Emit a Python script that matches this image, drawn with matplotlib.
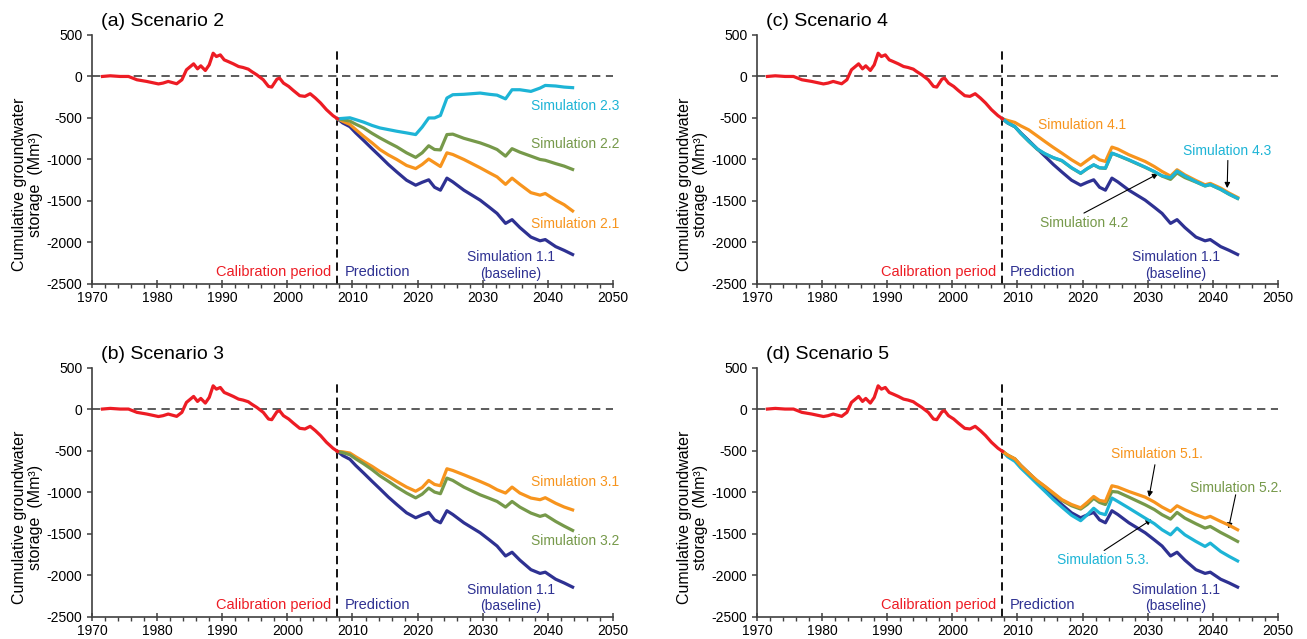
import matplotlib
matplotlib.use("Agg")
import matplotlib.pyplot as plt
from matplotlib.ticker import MultipleLocator

plt.rcParams['font.family'] = ['Liberation Sans', 'DejaVu Sans']
plt.rcParams['axes.unicode_minus'] = False
plt.rcParams['lines.scale_dashes'] = False

# ---------------------------------------------------------------
# colours
RED = '#ED1C24'
NAVY = '#2E3192'
ORANGE = '#F7941D'
GREEN = '#76994A'
CYAN = '#1DB4D6'

# ---------------------------------------------------------------
# calibration period (same in all panels)
cal_years = [1971.6, 1972.8, 1974.3, 1975.6, 1976.9, 1978.4, 1980.2, 1980.9, 1981.7,
             1983.0, 1983.8, 1984.5, 1985.6, 1986.2, 1986.7, 1987.4, 1988.0, 1988.6,
             1989.1, 1989.7, 1990.3, 1990.9, 1991.7, 1992.5, 1993.2, 1994.0, 1994.5,
             1995.3, 1996.3, 1997.1, 1997.6, 1998.4, 1998.8, 1999.4, 2000.2, 2000.9,
             2001.9, 2002.7, 2003.5, 2004.3, 2005.1, 2006.0, 2007.0, 2007.7]
cal_vals = [0, 8, 0, 0, -40, -60, -90, -80, -60, -88, -40, 80, 152, 92, 128, 72, 140,
            280, 240, 260, 200, 180, 152, 120, 108, 88, 60, 20, -40, -120, -128, -32,
            -20, -80, -120, -168, -232, -240, -208, -260, -320, -400, -472, -510]

# prediction period
pred_years = [2007.7, 2008.5, 2009.6, 2010.5, 2011.7, 2013.0, 2014.2, 2015.5, 2016.8,
              2018.3, 2019.7, 2020.7, 2021.7, 2022.6, 2023.5, 2024.5, 2025.4, 2027.1,
              2029.6, 2031.0, 2032.2, 2033.5, 2034.5, 2035.7, 2037.4, 2038.8, 2039.6,
              2041.2, 2042.5, 2043.8]

sim_1_1 = [-510, -560, -605, -680, -770, -870, -960, -1060, -1150, -1250, -1310, -1275,
           -1245, -1335, -1370, -1225, -1270, -1370, -1490, -1575, -1650, -1770, -1725,
           -1820, -1935, -1980, -1965, -2050, -2095, -2145]

sim_2_1 = [-510, -540, -578, -640, -720, -800, -880, -945, -1000, -1072, -1110, -1060,
           -995, -1040, -1085, -920, -940, -1000, -1100, -1160, -1210, -1300, -1225,
           -1300, -1400, -1430, -1410, -1490, -1545, -1620]
sim_2_2 = [-510, -520, -538, -575, -620, -685, -740, -795, -848, -920, -975, -920,
           -835, -880, -885, -700, -695, -745, -800, -840, -880, -960, -870, -912,
           -960, -1000, -1010, -1050, -1080, -1120]
sim_2_3 = [-510, -505, -498, -520, -550, -590, -620, -640, -660, -680, -700, -610,
           -500, -500, -470, -260, -220, -215, -200, -215, -225, -270, -160, -160,
           -180, -140, -108, -115, -128, -135]

sim_3_1 = [-510, -515, -530, -575, -631, -690, -752, -810, -872, -940, -990, -945,
           -860, -908, -924, -719, -740, -792, -872, -920, -972, -1012, -940, -1012,
           -1072, -1092, -1068, -1135, -1180, -1215]
sim_3_2 = [-510, -525, -551, -600, -659, -730, -804, -870, -940, -1012, -1070, -1025,
           -952, -1000, -1020, -832, -860, -940, -1033, -1075, -1113, -1181, -1113,
           -1181, -1253, -1293, -1275, -1354, -1410, -1462]

sim_4_1 = [-510, -530, -554, -595, -642, -715, -783, -855, -923, -1004, -1070, -1012,
           -956, -1004, -1024, -851, -875, -943, -1024, -1085, -1145, -1200, -1124,
           -1185, -1253, -1305, -1288, -1345, -1405, -1458]
sim_4_2 = [-510, -560, -605, -685, -780, -875, -932, -980, -1015, -1102, -1168, -1112,
           -1066, -1102, -1108, -926, -952, -1008, -1095, -1148, -1200, -1240, -1162,
           -1218, -1272, -1320, -1304, -1362, -1420, -1470]
sim_4_3 = [-510, -560, -605, -685, -778, -872, -930, -978, -1012, -1100, -1165, -1110,
           -1064, -1100, -1104, -923, -950, -1004, -1092, -1145, -1197, -1220, -1140,
           -1200, -1268, -1318, -1302, -1360, -1418, -1468]

sim_5_1 = [-510, -555, -600, -680, -770, -860, -930, -1010, -1090, -1150, -1190, -1125,
           -1053, -1101, -1113, -924, -940, -993, -1061, -1120, -1181, -1234, -1165,
           -1213, -1273, -1314, -1293, -1354, -1400, -1454]
sim_5_2 = [-510, -555, -600, -680, -770, -865, -935, -1020, -1100, -1165, -1205, -1150,
           -1075, -1125, -1150, -993, -1000, -1061, -1153, -1210, -1273, -1326, -1245,
           -1314, -1382, -1434, -1414, -1487, -1540, -1595]
sim_5_3 = [-510, -575, -630, -710, -800, -900, -990, -1090, -1180, -1280, -1345, -1275,
           -1195, -1253, -1273, -1072, -1113, -1193, -1314, -1380, -1454, -1515, -1434,
           -1515, -1595, -1655, -1615, -1716, -1775, -1830]

# ---------------------------------------------------------------
fig = plt.figure(figsize=(13.07, 6.39), dpi=100)

ax_a = fig.add_axes([0.0704, 0.5556, 0.3986, 0.3897])
ax_c = fig.add_axes([0.5792, 0.5556, 0.3986, 0.3897])
ax_b = fig.add_axes([0.0704, 0.0351, 0.3986, 0.3897])
ax_d = fig.add_axes([0.5792, 0.0351, 0.3986, 0.3897])


def base_panel(ax, title):
    ax.set_xlim(1970, 2050)
    ax.set_ylim(-2500, 500)
    for s in ['top', 'right']:
        ax.spines[s].set_visible(False)
    for s in ['left', 'bottom']:
        ax.spines[s].set_color('#404040')
        ax.spines[s].set_linewidth(1.2)
    ax.xaxis.set_major_locator(MultipleLocator(10))
    ax.xaxis.set_minor_locator(MultipleLocator(2))
    ax.yaxis.set_major_locator(MultipleLocator(500))
    ax.tick_params(axis='x', which='major', direction='inout', length=6, width=1.1,
                   color='#404040', labelsize=10, pad=2)
    ax.tick_params(axis='x', which='minor', direction='out', length=3, width=1.0,
                   color='#404040')
    ax.tick_params(axis='y', which='major', direction='out', length=3.5, width=1.1,
                   color='#404040', labelsize=10, pad=3.5)

    ax.axhline(0, color='#404040', lw=1.2, linestyle=(0, (6, 4)), zorder=1)
    ax.plot([2007.6, 2007.6], [-2500, 330], color='black', lw=1.3,
            linestyle=(0, (6, 3.5)), zorder=1)

    ax.set_ylabel('Cumulative groundwater\nstorage  (Mm³)', fontsize=11.5, linespacing=1.05)
    ax.yaxis.set_label_coords(-0.094, 0.40)

    ax.text(1971.4, 660, title, fontsize=14, va='center', ha='left', clip_on=False)

    ax.text(2006.8, -2360, 'Calibration period', color=RED, fontsize=10.5,
            ha='right', va='center')
    ax.text(2008.8, -2360, 'Prediction', color=NAVY, fontsize=10.5,
            ha='left', va='center')
    ax.text(2034.3, -2177, 'Simulation 1.1', color=NAVY, fontsize=10,
            ha='center', va='center')
    ax.text(2034.3, -2378, '(baseline)', color=NAVY, fontsize=10,
            ha='center', va='center')

    ax.plot(pred_years, sim_1_1, color=NAVY, lw=2.3, zorder=3)
    ax.plot(cal_years, cal_vals, color=RED, lw=2.3, zorder=6)


def arrow(ax, start, tip):
    ax.annotate('', xy=tip, xytext=start,
                arrowprops=dict(arrowstyle='-|>', color='black', lw=0.8,
                                mutation_scale=8, shrinkA=0, shrinkB=0))


# (a) Scenario 2
base_panel(ax_a, '(a) Scenario 2')
ax_a.plot(pred_years, sim_2_1, color=ORANGE, lw=2.3, zorder=4)
ax_a.plot(pred_years, sim_2_2, color=GREEN, lw=2.3, zorder=4)
ax_a.plot(pred_years, sim_2_3, color=CYAN, lw=2.3, zorder=5)
ax_a.text(2051, -360, 'Simulation 2.3', color=CYAN, fontsize=10, ha='right', va='center')
ax_a.text(2051, -808, 'Simulation 2.2', color=GREEN, fontsize=10, ha='right', va='center')
ax_a.text(2051, -1775, 'Simulation 2.1', color=ORANGE, fontsize=10, ha='right', va='center')

# (b) Scenario 3
base_panel(ax_b, '(b) Scenario 3')
ax_b.plot(pred_years, sim_3_1, color=ORANGE, lw=2.3, zorder=4)
ax_b.plot(pred_years, sim_3_2, color=GREEN, lw=2.3, zorder=5)
ax_b.text(2051, -875, 'Simulation 3.1', color=ORANGE, fontsize=10, ha='right', va='center')
ax_b.text(2051, -1595, 'Simulation 3.2', color=GREEN, fontsize=10, ha='right', va='center')

# (c) Scenario 4
base_panel(ax_c, '(c) Scenario 4')
ax_c.plot(pred_years, sim_4_1, color=ORANGE, lw=2.3, zorder=4)
ax_c.plot(pred_years, sim_4_2, color=GREEN, lw=2.3, zorder=4)
ax_c.plot(pred_years, sim_4_3, color=CYAN, lw=2.3, zorder=5)
ax_c.text(2013.2, -582, 'Simulation 4.1', color=ORANGE, fontsize=10, ha='left', va='center')
ax_c.text(2035.4, -895, 'Simulation 4.3', color=CYAN, fontsize=10, ha='left', va='center')
ax_c.text(2013.4, -1767, 'Simulation 4.2', color=GREEN, fontsize=10, ha='left', va='center')
arrow(ax_c, (2042.3, -1012), (2042.2, -1345))
arrow(ax_c, (2020.2, -1646), (2031.6, -1172))

# (d) Scenario 5
base_panel(ax_d, '(d) Scenario 5')
ax_d.plot(pred_years, sim_5_3, color=CYAN, lw=2.3, zorder=4)
ax_d.plot(pred_years, sim_5_2, color=GREEN, lw=2.3, zorder=4)
ax_d.plot(pred_years, sim_5_1, color=ORANGE, lw=2.3, zorder=5)
ax_d.text(2024.3, -539, 'Simulation 5.1.', color=ORANGE, fontsize=10, ha='left', va='center')
ax_d.text(2036.5, -952, 'Simulation 5.2.', color=GREEN, fontsize=10, ha='left', va='center')
ax_d.text(2016.1, -1824, 'Simulation 5.3.', color=CYAN, fontsize=10, ha='left', va='center')
arrow(ax_d, (2031.1, -671), (2030.2, -1060))
arrow(ax_d, (2043.5, -1033), (2042.4, -1440))
arrow(ax_d, (2023.3, -1704), (2030.6, -1330))

fig.savefig('out.png', dpi=100)
